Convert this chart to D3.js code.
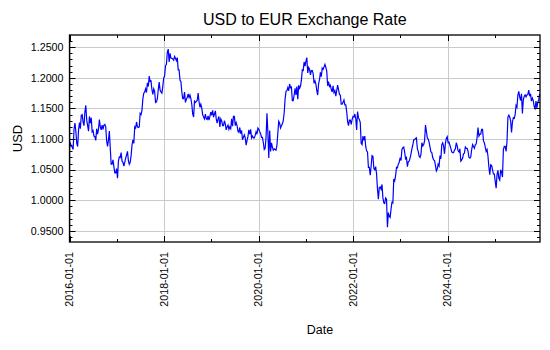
<!DOCTYPE html>
<html><head><meta charset="utf-8">
<script src="https://cdn.jsdelivr.net/npm/d3@7"></script>
<style>
body{margin:0;background:#fff;}
text{font-family:"Liberation Sans",Arial,sans-serif;fill:#000;}
</style>
</head><body>
<svg id="chart" width="550" height="350"></svg>
<script>
// Weekly (Friday) USD per EUR values, starting 2016-01-01
const rates2016 = [1.086,1.093,1.089,1.087,1.083, 1.116,1.126,1.113,1.093, 1.088,1.115,1.127,1.117,1.139,
  1.140,1.128,1.122,1.145, 1.155,1.131,1.122,1.113, 1.137,1.126,1.135,1.112,1.114, 1.105,1.104,1.098,1.117,
  1.108,1.116,1.132,1.120, 1.115,1.123,1.116,1.123,1.124, 1.120,1.097,1.088,1.098, 1.113,1.085,1.059,1.059,
  1.066,1.055,1.045,1.045,1.052];
const rates2017 = [1.036,1.064,1.071,1.070, 1.078,1.064,1.062,1.056, 1.062,1.069,1.074,1.080,1.065,
  1.059,1.062,1.073,1.090, 1.099,1.093,1.120,1.118, 1.128,1.120,1.119,1.120,1.142, 1.140,1.147,1.166,1.175,
  1.177,1.182,1.176,1.192, 1.186,1.203,1.194,1.195,1.181, 1.173,1.182,1.178,1.160, 1.161,1.166,1.181,1.193,
  1.180,1.177,1.175,1.186,1.200];
const rates2018 = [1.203,1.220,1.222,1.242, 1.247,1.226,1.240,1.232, 1.232,1.231,1.229,1.235,1.232,
  1.228,1.233,1.213,1.213, 1.196,1.194,1.177,1.166, 1.166,1.177,1.160,1.165,1.168, 1.174,1.168,1.172,1.166,
  1.157,1.141,1.136,1.162,1.160, 1.162,1.163,1.175,1.161, 1.152,1.157,1.151,1.140, 1.136,1.133,1.141,1.133,1.132,
  1.138,1.131,1.137,1.144];
const rates2019 = [1.139,1.147,1.136,1.141, 1.146,1.133,1.126,1.133, 1.137,1.120,1.133,1.130,1.122,
  1.122,1.130,1.125,1.115, 1.120,1.123,1.116,1.120,1.117, 1.133,1.121,1.137,1.137, 1.122,1.127,1.122,1.113,
  1.111,1.119,1.109,1.114,1.099, 1.103,1.107,1.102,1.090, 1.098,1.104,1.115,1.108, 1.116,1.102,1.105,1.102,1.102,
  1.106,1.112,1.108,1.118];
const rates2020 = [1.116,1.112,1.109,1.103,1.103, 1.094,1.083,1.085,1.103, 1.142,1.111,1.069,1.114,
  1.080,1.094,1.087,1.082, 1.084,1.083,1.082,1.090,1.110, 1.129,1.126,1.118,1.122, 1.125,1.130,1.143,1.165,1.178,
  1.179,1.184,1.179,1.190, 1.184,1.185,1.163,1.163, 1.172,1.183,1.172,1.186,1.165, 1.188,1.183,1.186,1.196,
  1.213,1.212,1.226,1.219];
const rates2021 = [1.227,1.233,1.208,1.217,1.214, 1.205,1.212,1.212,1.207, 1.191,1.195,1.190,1.179,
  1.172,1.190,1.197,1.209,1.202, 1.216,1.214,1.218,1.222, 1.217,1.211,1.187,1.194, 1.186,1.188,1.181,1.177,1.187,
  1.176,1.179,1.170,1.179, 1.188,1.181,1.173,1.172, 1.157,1.157,1.160,1.164,1.156, 1.156,1.145,1.129,1.122,
  1.131,1.131,1.124,1.132,1.137];
const rates2022 = [1.136,1.141,1.134,1.115, 1.145,1.135,1.132,1.127, 1.093,1.091,1.105,1.098,
  1.105,1.088,1.081,1.079,1.054, 1.054,1.041,1.056,1.073, 1.072,1.052,1.050,1.055, 1.043,1.019,1.002,1.021,1.022,
  1.018,1.026,1.004,0.996, 0.995,1.004,1.002,0.956,0.980, 0.974,0.972,0.986,0.997, 0.996,1.035,1.032,1.040,
  1.054,1.053,1.059,1.062,1.070];
const rates2023 = [1.065,1.083,1.086,1.087, 1.079,1.068,1.070,1.055, 1.063,1.064,1.069,1.076,1.084,
  1.090,1.099,1.099,1.101, 1.102,1.085,1.080,1.072, 1.070,1.075,1.094,1.089,1.091, 1.097,1.123,1.113,1.102,
  1.100,1.095,1.087,1.079, 1.078,1.070,1.066,1.065,1.057, 1.048,1.051,1.059,1.056, 1.073,1.068,1.091,1.094,
  1.089,1.076,1.093,1.101,1.104];
const rates2024 = [1.094,1.095,1.090,1.085, 1.079,1.078,1.078,1.082, 1.084,1.094,1.089,1.081,1.079,
  1.084,1.064,1.066,1.069, 1.076,1.077,1.087,1.085,1.085, 1.080,1.070,1.069,1.071, 1.083,1.091,1.088,1.085,
  1.091,1.092,1.103,1.119,1.105, 1.108,1.108,1.116,1.116, 1.097,1.094,1.087,1.080, 1.083,1.072,1.054,1.042,1.058,
  1.057,1.050,1.043,1.043];
const rates2025 = [1.031,1.020,1.042,1.049,1.036, 1.033,1.050,1.046,1.038, 1.083,1.088,1.088,1.080,
  1.096,1.136,1.139,1.136, 1.130,1.111,1.128,1.135,1.134, 1.140,1.155,1.152,1.172, 1.178,1.169,1.163,1.174,
  1.142,1.164,1.170,1.172,1.169, 1.172,1.173,1.180,1.170, 1.174,1.162,1.167,1.163,1.153, 1.150,1.162,1.151,1.160,
  1.164,1.174];

const seriesStart = "2016-01-01";
const axisEnd = "2025-12-15";
const yTickLabels = ["0.9500","1.0000","1.0500","1.1000","1.1500","1.2000","1.2500"];
const xTickLabels = ["2016-01-01","2018-01-01","2020-01-01","2022-01-01","2024-01-01"];
const titleText = "USD to EUR Exchange Rate";
const xTitle = "Date", yTitle = "USD";

const values = [].concat(rates2016,rates2017,rates2018,rates2019,rates2020,
                         rates2021,rates2022,rates2023,rates2024,rates2025);
const parse = d3.utcParse("%Y-%m-%d");
const t0 = parse(seriesStart);
const data = values.map((v,i)=>({date:d3.utcDay.offset(t0, 7*i), value:v}));

const L=69.5, R=540, T=35, B=242;
const svg = d3.select("#chart");
const x = d3.scaleUtc().domain([t0, parse(axisEnd)]).range([L,R]);
const y = d3.scaleLinear().domain([0.932,1.270]).range([B,T]);

const yMajor = yTickLabels.map(Number);
const yMinor = d3.range(94,127).map(i=>i/100).filter(v=>!yMajor.some(m=>Math.abs(m-v)<1e-9));
const xMajor = xTickLabels.map(parse);
const xMinor = d3.utcYear.range(t0, parse(axisEnd)).filter(d=>!xMajor.some(m=>+m===+d));

// grid
const grid = svg.append("g").attr("stroke","#c8ccc8").attr("stroke-width",1);
grid.selectAll(".hg").data(yMajor).join("line")
  .attr("x1",L).attr("x2",R).attr("y1",d=>Math.round(y(d))+0.5).attr("y2",d=>Math.round(y(d))+0.5);
grid.selectAll(".vg").data(xMajor).join("line")
  .attr("y1",T).attr("y2",B).attr("x1",d=>Math.round(x(d))+0.5).attr("x2",d=>Math.round(x(d))+0.5);

// line
svg.append("path").datum(data)
  .attr("fill","none").attr("stroke","#0000ff").attr("stroke-width",1.2)
  .attr("stroke-linejoin","miter")
  .attr("d", d3.line().x(d=>x(d.date)).y(d=>y(d.value)));

// ticks (inward on all sides)
const tk = svg.append("g").attr("stroke","#000").attr("stroke-width",1);
const yp = d=>Math.round(y(d))+0.5, xp = d=>Math.round(x(d))+0.5;
function hTicks(arr,len){
  tk.selectAll(null).data(arr).join("line").attr("x1",L).attr("x2",L+len).attr("y1",yp).attr("y2",yp);
  tk.selectAll(null).data(arr).join("line").attr("x1",R).attr("x2",R-len).attr("y1",yp).attr("y2",yp);
}
function vTicks(arr,len){
  tk.selectAll(null).data(arr).join("line").attr("y1",B).attr("y2",B-len).attr("x1",xp).attr("x2",xp);
  tk.selectAll(null).data(arr).join("line").attr("y1",T).attr("y2",T+len).attr("x1",xp).attr("x2",xp);
}
hTicks(yMajor,6); hTicks(yMinor,3);
vTicks(xMajor,6); vTicks(xMinor,3);

// frame
svg.append("rect").attr("x",L).attr("y",T).attr("width",R-L).attr("height",B-T)
  .attr("fill","none").attr("stroke","#000").attr("stroke-width",1.3);

// y tick labels
svg.append("g").selectAll("text").data(yTickLabels).join("text")
  .attr("x",L-6).attr("y",d=>y(+d)).attr("dy","0.35em")
  .attr("text-anchor","end").attr("font-size","10.7px").text(d=>d);

// x tick labels rotated
svg.append("g").selectAll("text").data(xTickLabels).join("text")
  .attr("transform",d=>`translate(${x(parse(d))+3.8},${B+10}) rotate(-90)`)
  .attr("text-anchor","end").attr("font-size","10.7px").text(d=>d);

// titles
svg.append("text").attr("x",(L+R)/2).attr("y",25).attr("text-anchor","middle")
  .attr("font-size","16px").text(titleText);
svg.append("text").attr("x",320).attr("y",334).attr("text-anchor","middle")
  .attr("font-size","12.5px").text(xTitle);
svg.append("text").attr("transform",`translate(22,${(T+B)/2}) rotate(-90)`)
  .attr("text-anchor","middle").attr("font-size","13px").text(yTitle);
</script>
</body></html>
